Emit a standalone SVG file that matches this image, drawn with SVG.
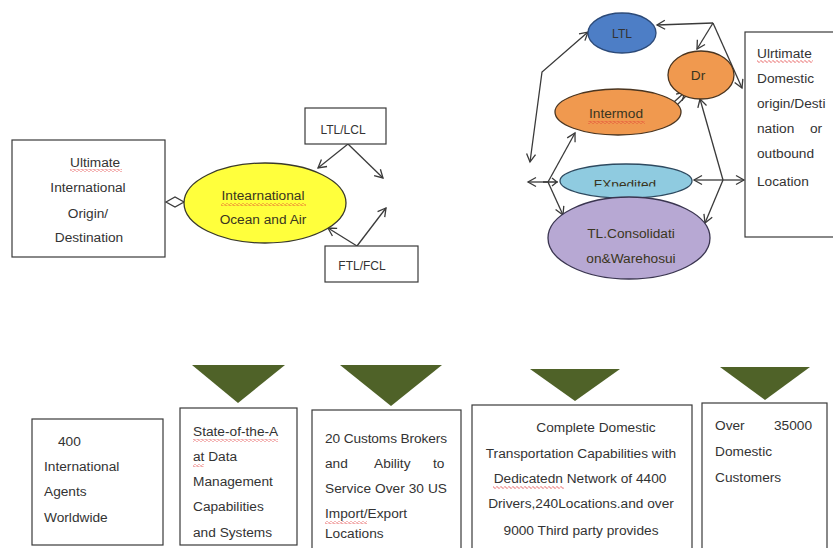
<svg xmlns="http://www.w3.org/2000/svg" width="833" height="548" viewBox="0 0 833 548">
<style>
.box{fill:#fff;stroke:#3a3a3a;stroke-width:1.2}
.t{font-family:"Liberation Sans",Arial,sans-serif;font-size:13.7px;fill:#333}
.ts{font-family:"Liberation Sans",Arial,sans-serif;font-size:12px;fill:#333}
.te{font-family:"Liberation Sans",Arial,sans-serif;font-size:13.7px;fill:#3a3520}
.c{text-anchor:middle}
.ln{fill:none;stroke:#3a3a3a;stroke-width:1.3}
.tri{fill:#4f6228}
.sq{fill:url(#squig)}
</style>
<defs>
<marker id="ah" markerUnits="userSpaceOnUse" markerWidth="12" markerHeight="12" refX="10" refY="6" orient="auto-start-reverse">
<path d="M2,1.5 L10,6 L2,10.5" fill="none" stroke="#3a3a3a" stroke-width="1.3"/>
</marker>
<pattern id="squig" width="4" height="3" patternUnits="userSpaceOnUse">
<path d="M0,1.5 L1,0.5 L3,2.5 L4,1.5" fill="none" stroke="#e03030" stroke-width="0.8"/>
</pattern>
<clipPath id="fxclip"><rect x="560" y="160" width="140" height="26.5"/></clipPath>
</defs>

<g id="connectors">
<polygon class="ln" points="166,202 175,197 184,202 175,207"/>
<path class="ln" d="M348,144 L318,168" marker-end="url(#ah)"/>
<path class="ln" d="M348,144 L383,178" marker-end="url(#ah)"/>
<path class="ln" d="M357,246 L328,228" marker-end="url(#ah)"/>
<path class="ln" d="M357,246 L386,208" marker-end="url(#ah)"/>
<path class="ln" d="M530,162 L542,72 L588,32" marker-start="url(#ah)" marker-end="url(#ah)"/>
<path class="ln" d="M713,23 L657,25" marker-end="url(#ah)"/>
<path class="ln" d="M713,23 L697,49" marker-end="url(#ah)"/>
<path class="ln" d="M713,23 L742,88" marker-end="url(#ah)"/>
<path class="ln" d="M674,102 L685,92" marker-end="url(#ah)"/>
<path class="ln" d="M677,105 L687,95"/>
<path class="ln" d="M723,180 L700,99" marker-end="url(#ah)"/>
<path class="ln" d="M723,180 L705,223" marker-end="url(#ah)"/>
<path class="ln" d="M723,180 L694,180" marker-end="url(#ah)"/>
<path class="ln" d="M723,180 L744,180" marker-end="url(#ah)"/>
<path class="ln" d="M548,182 L528,182" marker-end="url(#ah)"/>
<path class="ln" d="M548,182 L575,133" marker-end="url(#ah)"/>
<path class="ln" d="M548,182 L563,215" marker-end="url(#ah)"/>
<path class="ln" d="M543,182 L558,182 M552,178 L557,182 L552,186"/>
</g>

<g id="intl-origin">
<rect class="box" x="12" y="140" width="153" height="117"/>
<rect class="sq" x="70" y="169" width="52" height="3"/>
<text class="t" x="70" y="167">Ultimate</text>
<text class="t c" x="88" y="192">International</text>
<text class="t c" x="88" y="218">Origin/</text>
<text class="t c" x="89" y="242">Destination</text>
</g>

<g id="intl-ocean-air">
<ellipse cx="265" cy="203" rx="81" ry="40" fill="#ffff3c" stroke="#3a3a2a" stroke-width="1.3"/>
<rect class="sq" x="221" y="203" width="85" height="3"/>
<text class="te c" x="263" y="200">Intearnational</text>
<text class="te c" x="263" y="224">Ocean and Air</text>
</g>

<g id="ltl-lcl">
<rect class="box" x="305" y="108" width="81" height="36"/>
<text class="ts c" x="343" y="134">LTL/LCL</text>
</g>

<g id="ftl-fcl">
<rect class="box" x="325" y="246" width="93" height="36"/>
<text class="ts c" x="362" y="270">FTL/FCL</text>
</g>

<g id="ltl">
<ellipse cx="622" cy="33" rx="34" ry="20" fill="#4d7ec6" stroke="#2c4a78" stroke-width="1.3"/>
<text class="ts c" x="622" y="38" fill="#1f2f4f">LTL</text>
</g>

<g id="dr">
<ellipse cx="701" cy="75" rx="33" ry="24" fill="#f0994f" stroke="#4a3520" stroke-width="1.3"/>
<text class="te c" x="698" y="80">Dr</text>
</g>

<g id="intermod">
<ellipse cx="618" cy="112" rx="63" ry="23" fill="#f0994f" stroke="#4a3520" stroke-width="1.3"/>
<rect class="sq" x="588" y="121" width="57" height="3"/>
<text class="te c" x="616" y="118">Intermod</text>
</g>

<g id="fxpedited">
<ellipse cx="626" cy="181" rx="66" ry="17" fill="#8fcbe0" stroke="#2e4a60" stroke-width="1.3"/>
<text class="te c" x="625" y="188.5" fill="#2e4a6a" clip-path="url(#fxclip)">FXpedited</text>
</g>

<g id="tl-consolidation">
<ellipse cx="629" cy="238" rx="81" ry="41" fill="#b7a8d3" stroke="#3a3550" stroke-width="1.3"/>
<text class="te c" x="631" y="238">TL.Consolidati</text>
<text class="te c" x="631" y="263">on&amp;Warehosui</text>
</g>

<g id="domestic-origin">
<rect class="box" x="745" y="32" width="100" height="205"/>
<rect class="sq" x="757" y="60" width="56" height="3"/>
<text class="t" x="757" y="58">Ulrtimate</text>
<text class="t" x="757" y="83">Domestic</text>
<text class="t" x="757" y="108">origin/Desti</text>
<text class="t" x="757" y="133">nation</text>
<text class="t" x="810" y="133">or</text>
<text class="t" x="757" y="158">outbound</text>
<text class="t" x="757" y="186">Location</text>
</g>

<g id="agents">
<rect class="box" x="32" y="419" width="131" height="126"/>
<text class="t" x="58" y="446">400</text>
<text class="t" x="44" y="471">International</text>
<text class="t" x="44" y="496">Agents</text>
<text class="t" x="44" y="522">Worldwide</text>
</g>

<g id="data-mgmt">
<polygon class="tri" points="192,365 285,365 238,403"/>
<rect class="box" x="180" y="408" width="117" height="137"/>
<rect class="sq" x="193" y="439" width="85" height="3"/>
<rect class="sq" x="193" y="464" width="11" height="3"/>
<text class="t" x="193" y="436">State-of-the-A</text>
<text class="t" x="193" y="461">at Data</text>
<text class="t" x="193" y="486">Management</text>
<text class="t" x="193" y="511">Capabilities</text>
<text class="t" x="193" y="537">and Systems</text>
</g>

<g id="customs">
<polygon class="tri" points="340,365 442,365 391,406"/>
<rect class="box" x="312" y="410" width="149" height="145"/>
<rect class="sq" x="325" y="521" width="42" height="3"/>
<text class="t" x="325" y="443" textLength="122" lengthAdjust="spacing">20 Customs Brokers</text>
<text class="t" x="325" y="468">and</text>
<text class="t" x="374" y="468">Ability</text>
<text class="t" x="433" y="468">to</text>
<text class="t" x="325" y="493" textLength="122" lengthAdjust="spacing">Service Over 30 US</text>
<text class="t" x="325" y="518">Import/Export</text>
<text class="t" x="325" y="538">Locations</text>
</g>

<g id="domestic-transport">
<polygon class="tri" points="530,369 620,369 575,401"/>
<rect class="box" x="472" y="405" width="220" height="150"/>
<rect class="sq" x="493" y="486" width="71" height="3"/>
<text class="t c" x="596" y="432">Complete Domestic</text>
<text class="t c" x="581" y="458">Transportation Capabilities with</text>
<text class="t c" x="580" y="483">Dedicatedn Network of 4400</text>
<text class="t c" x="581" y="508">Drivers,240Locations.and over</text>
<text class="t c" x="581" y="535">9000 Third party provides</text>
</g>

<g id="customers">
<polygon class="tri" points="720,367 810,367 765,400"/>
<rect class="box" x="702" y="403" width="125" height="152"/>
<text class="t" x="715" y="430">Over</text>
<text class="t" x="774" y="430">35000</text>
<text class="t" x="715" y="456">Domestic</text>
<text class="t" x="715" y="482">Customers</text>
</g>
</svg>
